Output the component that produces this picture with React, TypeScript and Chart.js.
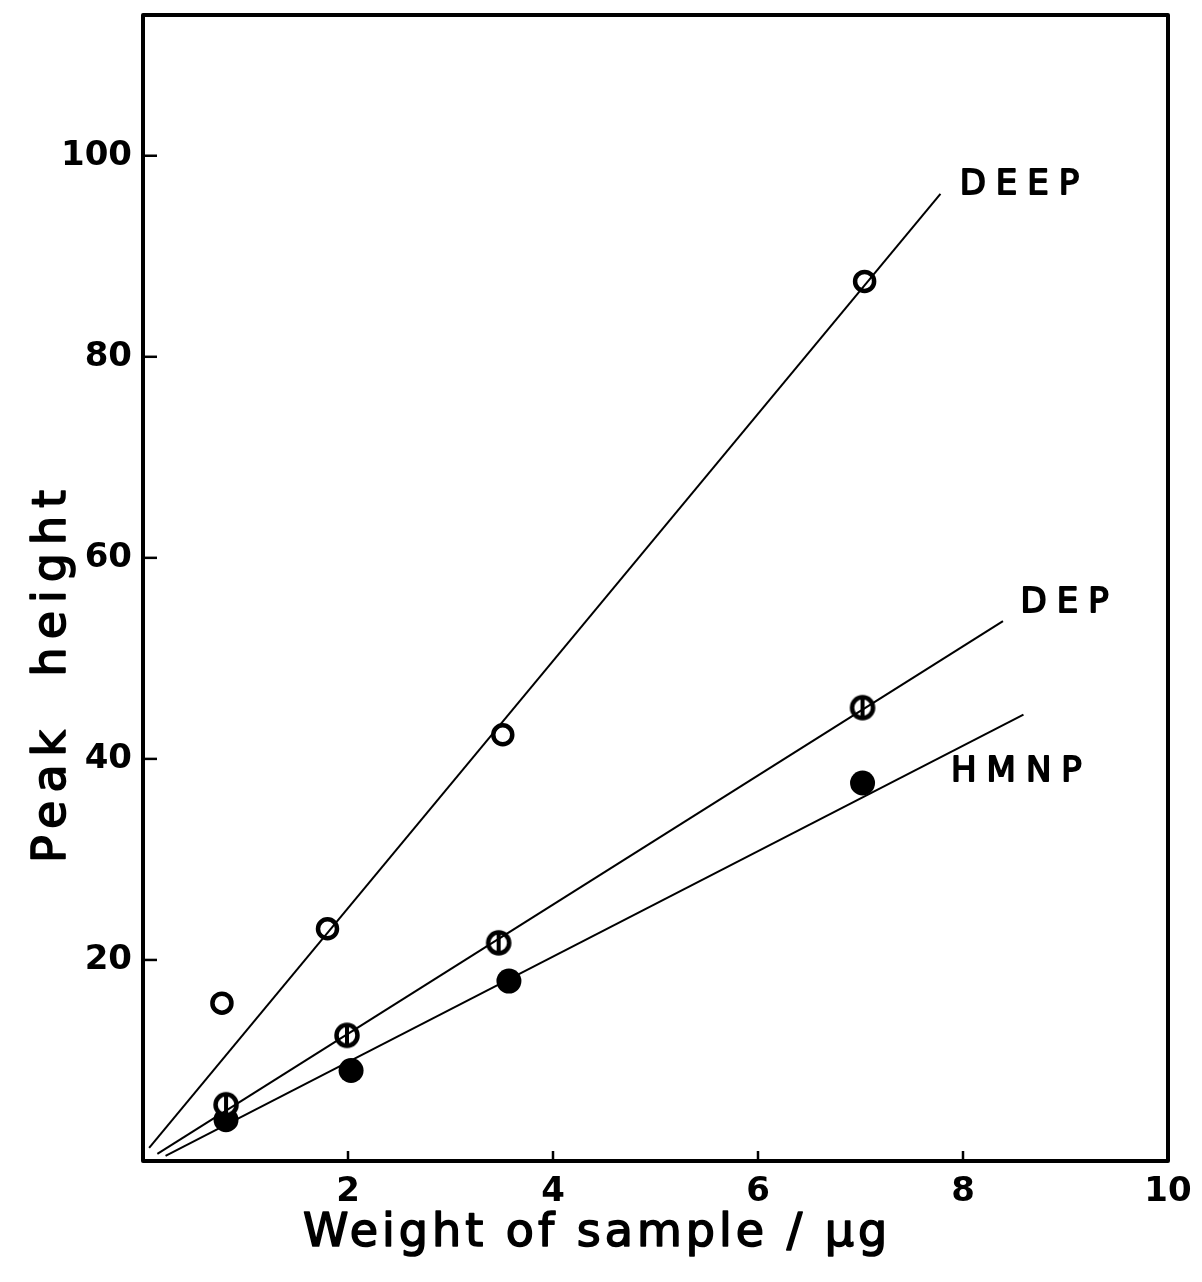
import { useEffect, useRef } from 'react';
import { Chart, registerables } from 'chart.js';

Chart.register(...registerables);

// ---- data ----
const xTickValues = [2, 4, 6, 8, 10];
const yTickValues = [20, 40, 60, 80, 100];

const deepX = [0.77, 1.8, 3.51, 7.04];
const deepY = [15.7, 23.1, 42.4, 87.5];
const depX = [0.81, 1.99, 3.47, 7.02];
const depY = [5.6, 12.5, 21.7, 45.1];
const hmnpX = [0.81, 2.03, 3.57, 7.02];
const hmnpY = [4.1, 9.0, 17.9, 37.6];

// fitted straight lines (start, end)
const deepLineX = [0.06, 7.78];
const deepLineY = [1.3, 96.2];
const depLineX = [0.14, 8.39];
const depLineY = [0.7, 53.7];
const hmnpLineX = [0.22, 8.59];
const hmnpLineY = [0.5, 44.4];

const seriesNames = ['DEEP', 'DEP', 'HMNP'];
const seriesLabelX = [8.6, 9.04, 8.57];
const seriesLabelY = [97.1, 55.5, 38.7];

const xTitle = 'Weight of sample / µg';
const yTitle = 'Peak  height';
const xTitlePos = 4.43;
const yTitlePos = 48.6;

const FONT = '"DejaVu Sans", sans-serif';

function pts(xs: number[], ys: number[]) {
  return xs.map((x, i) => ({ x, y: ys[i] }));
}

function makeThetaMarker(): HTMLCanvasElement {
  const c = document.createElement('canvas');
  c.width = 32;
  c.height = 32;
  const g = c.getContext('2d')!;
  g.fillStyle = '#fff';
  g.beginPath();
  g.arc(16, 16, 10.5, 0, Math.PI * 2);
  g.fill();
  g.strokeStyle = '#000';
  g.lineWidth = 4.5;
  g.stroke();
  g.lineWidth = 4;
  g.beginPath();
  g.moveTo(16, 7);
  g.lineTo(16, 25);
  g.stroke();
  return c;
}

const framePlugin = {
  id: 'framePlugin',
  afterDatasetsDraw(chart: any) {
    const { ctx, chartArea } = chart;
    const xs = chart.scales.x;
    const ys = chart.scales.y;
    ctx.save();
    ctx.strokeStyle = '#000';
    ctx.lineWidth = 4;
    ctx.lineJoin = 'round';
    ctx.strokeRect(chartArea.left, chartArea.top, chartArea.right - chartArea.left, chartArea.bottom - chartArea.top);
    ctx.lineWidth = 2.5;
    yTickValues.forEach((v) => {
      const py = ys.getPixelForValue(v);
      ctx.beginPath();
      ctx.moveTo(chartArea.left, py);
      ctx.lineTo(chartArea.left + 14, py);
      ctx.stroke();
    });
    xTickValues.forEach((v) => {
      if (v >= 10) return;
      const px = xs.getPixelForValue(v);
      ctx.beginPath();
      ctx.moveTo(px, chartArea.bottom);
      ctx.lineTo(px, chartArea.bottom - 10);
      ctx.stroke();
    });

    // series labels
    ctx.fillStyle = '#000';
    ctx.strokeStyle = '#000';
    ctx.font = `34px ${FONT}`;
    (ctx as any).letterSpacing = '10px';
    ctx.textAlign = 'center';
    ctx.textBaseline = 'middle';
    ctx.lineWidth = 1.8;
    seriesNames.forEach((n, i) => {
      const px = xs.getPixelForValue(seriesLabelX[i]);
      const py = ys.getPixelForValue(seriesLabelY[i]);
      ctx.fillText(n, px, py);
      ctx.strokeText(n, px, py);
    });

    // axis titles
    ctx.font = `46px ${FONT}`;
    ctx.lineWidth = 1.6;
    (ctx as any).letterSpacing = '4px';
    ctx.textBaseline = 'alphabetic';
    const tx = xs.getPixelForValue(xTitlePos);
    ctx.fillText(xTitle, tx, chartArea.bottom + 85);
    ctx.strokeText(xTitle, tx, chartArea.bottom + 85);

    (ctx as any).letterSpacing = '8px';
    ctx.translate(65, ys.getPixelForValue(yTitlePos));
    ctx.rotate(-Math.PI / 2);
    ctx.fillText(yTitle, 0, 0);
    ctx.strokeText(yTitle, 0, 0);
    ctx.restore();
  },
};

export default function App() {
  const ref = useRef<HTMLCanvasElement | null>(null);

  useEffect(() => {
    document.body.style.margin = '0';
    document.body.style.overflow = 'hidden';
    const canvas = ref.current;
    if (!canvas) return;
    const theta = makeThetaMarker();

    const lineStyle = {
      type: 'line' as const,
      borderColor: '#000',
      borderWidth: 2,
      pointRadius: 0,
      fill: false,
      showLine: true,
    };

    const chart = new Chart(canvas, {
      type: 'scatter',
      data: {
        datasets: [
          { ...lineStyle, label: 'DEEP fit', data: pts(deepLineX, deepLineY) },
          { ...lineStyle, label: 'DEP fit', data: pts(depLineX, depLineY) },
          { ...lineStyle, label: 'HMNP fit', data: pts(hmnpLineX, hmnpLineY) },
          {
            label: 'DEEP',
            data: pts(deepX, deepY),
            pointStyle: 'circle',
            pointRadius: 9.5,
            borderWidth: 4.5,
            borderColor: '#000',
            backgroundColor: '#fff',
            showLine: false,
          },
          {
            label: 'DEP',
            data: pts(depX, depY),
            pointStyle: theta as any,
            pointRadius: 12,
            showLine: false,
          },
          {
            label: 'HMNP',
            data: pts(hmnpX, hmnpY),
            pointStyle: 'circle',
            pointRadius: 12.5,
            borderWidth: 0,
            borderColor: '#000',
            backgroundColor: '#000',
            showLine: false,
          },
        ],
      },
      options: {
        animation: false,
        responsive: true,
        maintainAspectRatio: false,
        layout: { padding: { left: 0, top: 15, right: 34, bottom: 0 } },
        plugins: {
          legend: { display: false },
          tooltip: { enabled: false },
          title: { display: false },
        },
        scales: {
          x: {
            type: 'linear',
            min: 0,
            max: 10,
            grid: { display: false, drawTicks: false },
            border: { display: false },
            afterFit: (s: any) => {
              s.height = 121;
              s.paddingLeft = 0;
              s.paddingRight = 0;
            },
            ticks: {
              stepSize: 2,
              includeBounds: false,
              autoSkip: false,
              maxRotation: 0,
              padding: 11,
              color: '#000',
              font: { family: FONT, size: 34, weight: 'bold' },
              callback: (v: any) => (xTickValues.includes(Number(v)) ? String(v) : ''),
            },
          },
          y: {
            type: 'linear',
            min: 0,
            max: 114,
            grid: { display: false, drawTicks: false },
            border: { display: false },
            afterFit: (s: any) => {
              s.width = 143;
              s.paddingTop = 0;
              s.paddingBottom = 0;
            },
            ticks: {
              stepSize: 20,
              includeBounds: false,
              autoSkip: false,
              padding: 11,
              color: '#000',
              font: { family: FONT, size: 34, weight: 'bold' },
              callback: (v: any) => (yTickValues.includes(Number(v)) ? String(v) : ''),
            },
          },
        },
      },
      plugins: [framePlugin],
    });
    return () => chart.destroy();
  }, []);

  return (
    <div style={{ width: '1202px', height: '1282px', position: 'relative' }}>
      <canvas ref={ref} />
    </div>
  );
}
